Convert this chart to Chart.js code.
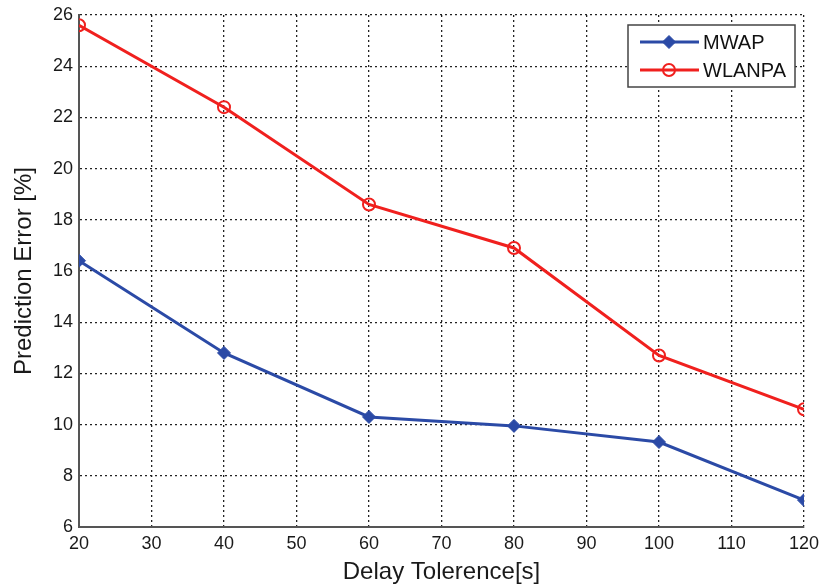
<!DOCTYPE html>
<html>
<head>
<meta charset="utf-8">
<script src="https://cdn.jsdelivr.net/npm/chart.js@4"></script>
<style>
  html, body { margin: 0; padding: 0; background: #fff; }
  #wrap { width: 821px; height: 588px; }
</style>
</head>
<body>
<div id="wrap"><canvas id="chart" width="821" height="588"></canvas></div>
<script>
// delay tolerance in seconds
const delays = [20, 40, 60, 80, 100, 120];
// prediction error (%) per method
const mwapError = [16.4, 12.8, 10.3, 9.95, 9.32, 7.05];
const wlanpaError = [25.6, 22.4, 18.6, 16.9, 12.7, 10.6];

const xTicks = [20, 30, 40, 50, 60, 70, 80, 90, 100, 110, 120];
const yTicks = [6, 8, 10, 12, 14, 16, 18, 20, 22, 24, 26];

const BLUE = '#2b4aa6';
const RED = '#f0201e';
const FONT = '"Liberation Sans", Arial, sans-serif';

function points(xs, ys) {
  return xs.map((x, i) => ({ x: x, y: ys[i] }));
}

function drawMarker(ctx, ds, x, y) {
  ctx.lineWidth = ds.pointBorderWidth;
  ctx.strokeStyle = ds.pointBorderColor;
  ctx.fillStyle = ds.pointBackgroundColor;
  ctx.beginPath();
  if (ds.pointStyle === 'circle') {
    ctx.arc(x, y, ds.pointRadius, 0, Math.PI * 2);
    ctx.stroke();
  } else {
    const r = ds.pointRadius;
    ctx.moveTo(x, y - r);
    ctx.lineTo(x + r, y);
    ctx.lineTo(x, y + r);
    ctx.lineTo(x - r, y);
    ctx.closePath();
    ctx.fill();
    ctx.stroke();
  }
}

// boxed legend in the upper-right corner, drawn with each dataset's own style
const boxLegend = {
  id: 'boxLegend',
  afterDatasetsDraw(chart) {
    const ctx = chart.ctx;
    const x0 = 628, y0 = 25, w = 167, h = 62;
    ctx.save();
    ctx.fillStyle = '#fff';
    ctx.fillRect(x0, y0, w, h);
    ctx.strokeStyle = '#444';
    ctx.lineWidth = 1.5;
    ctx.strokeRect(x0, y0, w, h);
    chart.data.datasets.forEach((ds, i) => {
      const y = y0 + 17 + i * 28;
      ctx.strokeStyle = ds.borderColor;
      ctx.lineWidth = ds.borderWidth;
      ctx.beginPath();
      ctx.moveTo(x0 + 12, y);
      ctx.lineTo(x0 + 71, y);
      ctx.stroke();
      drawMarker(ctx, ds, x0 + 41, y);
      ctx.fillStyle = '#111';
      ctx.font = '20px ' + FONT;
      ctx.textBaseline = 'middle';
      ctx.fillText(ds.label, x0 + 75, y + 1);
    });
    ctx.restore();
  }
};

new Chart(document.getElementById('chart'), {
  type: 'line',
  data: {
    datasets: [
      {
        label: 'MWAP',
        data: points(delays, mwapError),
        borderColor: BLUE,
        borderWidth: 3,
        pointStyle: 'rectRot',
        pointRadius: 6.5,
        pointBackgroundColor: BLUE,
        pointBorderColor: BLUE,
        pointBorderWidth: 1
      },
      {
        label: 'WLANPA',
        data: points(delays, wlanpaError),
        borderColor: RED,
        borderWidth: 3,
        pointStyle: 'circle',
        pointRadius: 6,
        pointBackgroundColor: 'rgba(0,0,0,0)',
        pointBorderColor: RED,
        pointBorderWidth: 2
      }
    ]
  },
  options: {
    responsive: false,
    animation: false,
    layout: { padding: { top: 15, right: 17, left: 0, bottom: 0 } },
    plugins: {
      legend: { display: false },
      tooltip: { enabled: false }
    },
    scales: {
      x: {
        type: 'linear',
        min: 20,
        max: 120,
        afterBuildTicks: (scale) => { scale.ticks = xTicks.map(v => ({ value: v })); },
        afterFit: (scale) => {
          scale.height = 61;
          scale.paddingLeft = 0;
          scale.paddingRight = 0;
        },
        grid: { color: '#222', lineWidth: 1.3, drawTicks: false },
        border: { display: true, color: '#555', width: 2, dash: [2, 3] },
        ticks: { color: '#1a1a1a', font: { family: FONT, size: 18 }, padding: 6, maxRotation: 0 },
        title: {
          display: true,
          text: 'Delay Tolerence[s]',
          color: '#1a1a1a',
          font: { family: FONT, size: 24 },
          padding: { top: 0, bottom: 1 }
        }
      },
      y: {
        min: 6,
        max: 26,
        afterBuildTicks: (scale) => { scale.ticks = yTicks.map(v => ({ value: v })); },
        afterFit: (scale) => {
          scale.width = 79;
          scale.paddingTop = 0;
          scale.paddingBottom = 0;
        },
        grid: { color: '#222', lineWidth: 1.3, drawTicks: false },
        border: { display: true, color: '#555', width: 2, dash: [2, 3] },
        ticks: { color: '#1a1a1a', font: { family: FONT, size: 18 }, padding: 6 },
        title: {
          display: true,
          text: 'Prediction Error [%]',
          color: '#1a1a1a',
          font: { family: FONT, size: 24 },
          padding: { top: 10, bottom: 0 }
        }
      }
    }
  },
  plugins: [boxLegend]
});
</script>
</body>
</html>
